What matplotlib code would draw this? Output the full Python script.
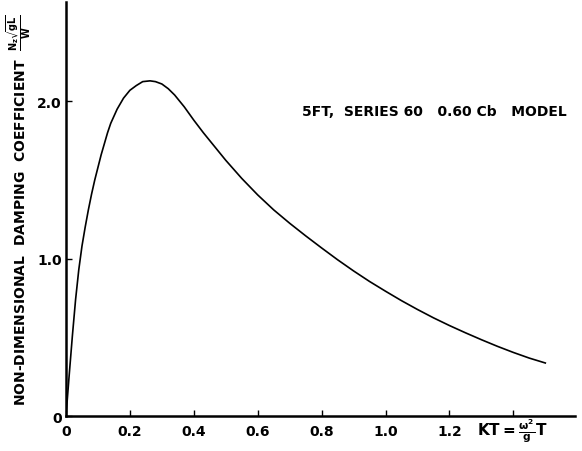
import matplotlib
matplotlib.use("Agg")
import matplotlib.pyplot as plt

# damping curve
kt = [0, 0.01, 0.02, 0.03, 0.04, 0.05, 0.06, 0.07, 0.08, 0.09, 0.10, 0.11,
      0.12, 0.13, 0.14, 0.16, 0.18, 0.20, 0.22, 0.24, 0.263, 0.28, 0.30,
      0.32, 0.34, 0.37, 0.40, 0.43, 0.47, 0.50, 0.55, 0.60, 0.65, 0.70,
      0.75, 0.80, 0.85, 0.90, 0.95, 1.00, 1.05, 1.10, 1.15, 1.20, 1.25,
      1.30, 1.35, 1.40, 1.45, 1.50]
coef = [0, 0.26, 0.51, 0.74, 0.93, 1.08, 1.20, 1.31, 1.41, 1.50, 1.58, 1.66,
        1.73, 1.80, 1.86, 1.95, 2.02, 2.07, 2.10, 2.125, 2.13, 2.125, 2.11,
        2.08, 2.04, 1.965, 1.88, 1.80, 1.70, 1.625, 1.51, 1.405, 1.31, 1.225,
        1.145, 1.068, 0.993, 0.922, 0.855, 0.793, 0.733, 0.677, 0.624, 0.575,
        0.529, 0.485, 0.443, 0.404, 0.368, 0.337]

xticks = [0, 0.2, 0.4, 0.6, 0.8, 1.0, 1.2, 1.4]
xticklabels = ['0', '0.2', '0.4', '0.6', '0.8', '1.0', '1.2', '']
yticks = [0, 1.0, 2.0]
yticklabels = ['0', '1.0', '2.0']

plt.rcParams['font.weight'] = 'bold'
plt.rcParams['axes.labelweight'] = 'bold'
plt.rcParams['mathtext.default'] = 'bf'

fig = plt.figure(figsize=(5.82, 4.52), dpi=100)
ax = fig.add_axes([0.1134, 0.0774, 0.8746, 0.9156])

ax.plot(kt, coef, color='black', lw=1.2)

ax.set_xlim(0, 1.593)
ax.set_ylim(0, 2.63)

for s in ['top', 'right']:
    ax.spines[s].set_visible(False)
for s in ['left', 'bottom']:
    ax.spines[s].set_linewidth(1.8)

ax.set_xticks(xticks)
ax.set_xticklabels(xticklabels)
ax.set_yticks(yticks)
ax.set_yticklabels(yticklabels)
ax.tick_params(direction='in', length=4, width=1, labelsize=10)
ax.tick_params(axis='x', pad=6)
ax.tick_params(axis='y', pad=3)

ax.set_ylabel(r'NON-DIMENSIONAL  DAMPING  COEFFICIENT  $\frac{N_z\sqrt{gL}}{W}$',
              fontsize=10, fontweight='bold', labelpad=3)

ax.text(1.286, -0.09, r'KT$=\frac{\omega^2}{g}$T', fontsize=11,
        ha='left', va='center', clip_on=False)

ax.text(0.739, 1.94, '5FT,  SERIES 60   0.60 Cb   MODEL', fontsize=10,
        ha='left', va='center')

fig.savefig('out.png', dpi=100)
